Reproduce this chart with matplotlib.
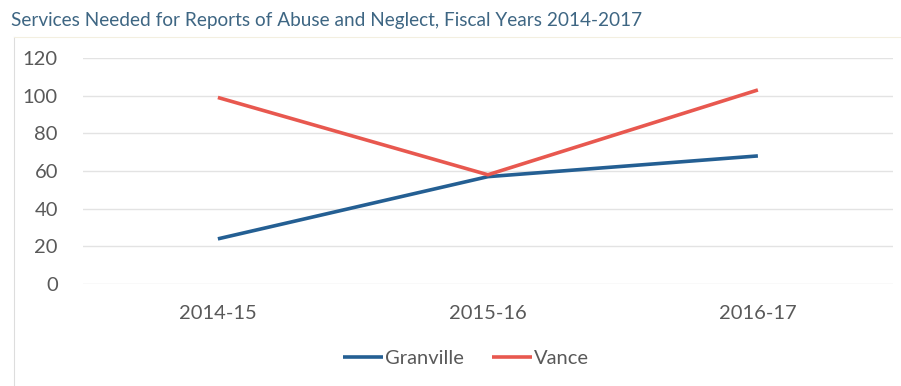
import matplotlib
matplotlib.use("Agg")
import matplotlib.pyplot as plt

# fiscal years and counts of services needed
years = ["2014-15", "2015-16", "2016-17"]
granville = [24, 57, 68]
vance = [99, 58, 103]
yticks = [0, 20, 40, 60, 80, 100, 120]

plt.rcParams['font.family'] = ['Lato', 'DejaVu Sans']

fig = plt.figure(figsize=(9.01, 3.86), dpi=100)
ax = fig.add_axes([0.092, 0.264, 0.899, 0.586])

x = range(len(years))
ax.plot(x, granville, color="#245f93", lw=2.6, label="Granville", solid_capstyle="butt")
ax.plot(x, vance, color="#e8584f", lw=2.6, label="Vance", solid_capstyle="butt")

ax.set_xlim(-0.5, len(years) - 0.5)
ax.set_ylim(0, 120)
ax.set_yticks(yticks)
ax.set_xticks(list(x))
ax.set_xticklabels(years)
ax.grid(axis="y", color="#e3e3e3", lw=1)
ax.set_axisbelow(True)
for s in ax.spines.values():
    s.set_visible(False)
ax.tick_params(length=0, colors="#595959")
ax.tick_params(axis="y", pad=18, labelsize=14.5)
ax.tick_params(axis="x", pad=15, labelsize=14.5)

ax.legend(loc="upper center", bbox_to_anchor=(0.473, -0.21), ncol=2, frameon=False,
          fontsize=14.5, labelcolor="#595959", handlelength=2.0, handletextpad=0.1,
          columnspacing=1.4)

fig.text(0.012, 0.947, "Services Needed for Reports of Abuse and Neglect, Fiscal Years 2014-2017",
         fontsize=13.7, color="#3e6683", va="center")
# thin frame line down the left side
fig.add_artist(plt.Line2D([0.015, 0.015], [0.0, 0.905], color="#dddddd", lw=0.8,
                          transform=fig.transFigure))
fig.add_artist(plt.Line2D([0.015, 1.0], [0.905, 0.905], color="#f3efe0", lw=0.8,
                          transform=fig.transFigure))

fig.savefig("out.png", dpi=100)
